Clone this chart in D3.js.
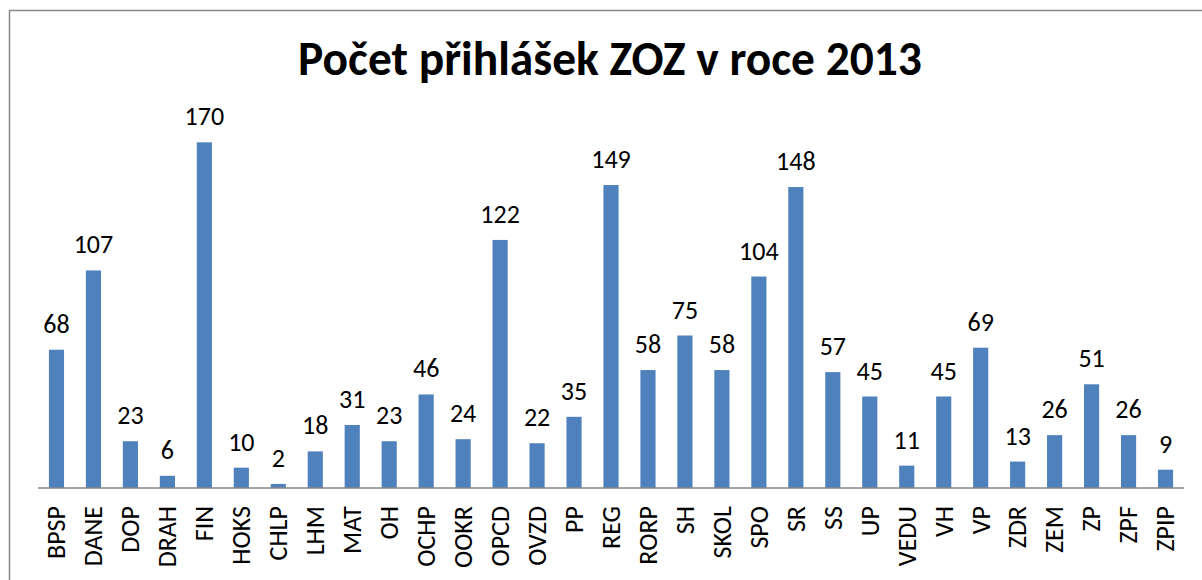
<!DOCTYPE html>
<html>
<head>
<meta charset="utf-8">
<script src="https://cdn.jsdelivr.net/npm/d3@7"></script>
<style>
  html, body { margin: 0; padding: 0; background: #fff; }
  svg { display: block; }
</style>
</head>
<body>
<svg id="chart" width="1202" height="580"></svg>
<script>
const title = "Počet přihlášek ZOZ v roce 2013";
const categories = ["BPSP","DANE","DOP","DRAH","FIN","HOKS","CHLP","LHM","MAT","OH","OCHP","OOKR","OPCD","OVZD","PP","REG","RORP","SH","SKOL","SPO","SR","SS","UP","VEDU","VH","VP","ZDR","ZEM","ZP","ZPF","ZPIP"];
const values = [68,107,23,6,170,10,2,18,31,23,46,24,122,22,35,149,58,75,58,104,148,57,45,11,45,69,13,26,51,26,9];
const yDomain = [0, 180];

const font = "Carlito, Calibri, Lato, 'Open Sans', sans-serif";
const svg = d3.select("#chart");

// chart frame
svg.append("rect")
  .attr("x", 9.5).attr("y", 10.5)
  .attr("width", 1300).attr("height", 700)
  .attr("fill", "#fff")
  .attr("stroke", "#898989").attr("stroke-width", 1.5);

const plot = { left: 38, right: 1184, top: 122, bottom: 488 };

const x = d3.scaleBand()
  .domain(categories)
  .range([plot.left, plot.right])
  .paddingInner(0.59).paddingOuter(0.295);

const y = d3.scaleLinear().domain(yDomain).range([plot.bottom, plot.top]);

// bars
svg.append("g").selectAll("rect")
  .data(categories)
  .join("rect")
  .attr("x", d => x(d))
  .attr("width", x.bandwidth())
  .attr("y", (d, i) => y(values[i]))
  .attr("height", (d, i) => y(0) - y(values[i]))
  .attr("fill", "#4F81BD");

// value labels
svg.append("g").selectAll("text")
  .data(categories)
  .join("text")
  .attr("x", d => x(d) + x.bandwidth() / 2)
  .attr("y", (d, i) => y(values[i]) - 17)
  .attr("text-anchor", "middle")
  .attr("font-family", font)
  .attr("font-size", 26)
  .attr("fill", "#000")
  .text((d, i) => values[i]);

// x axis
const xAxis = d3.axisBottom(x).tickSize(0).tickPadding(0);
const gx = svg.append("g")
  .attr("transform", `translate(0,${plot.bottom})`)
  .call(xAxis);
gx.select(".domain").attr("stroke", "#868686").attr("stroke-width", 1.5)
  .attr("d", `M${plot.left},0H${plot.right}`);
gx.selectAll(".tick text")
  .attr("font-family", font)
  .attr("font-size", 26)
  .attr("fill", "#000")
  .attr("transform", "rotate(-90)")
  .attr("text-anchor", "end")
  .attr("x", -18)
  .attr("y", 0)
  .attr("dy", "0.34em");

// title
const t = svg.append("text")
  .attr("x", 610).attr("y", 75)
  .attr("text-anchor", "middle")
  .attr("font-family", font)
  .attr("font-weight", "bold")
  .attr("font-size", 44)
  .attr("fill", "#000")
  .text(title);
const w = t.node().getComputedTextLength();
t.attr("font-size", 44 * 624 / w);
</script>
</body>
</html>
